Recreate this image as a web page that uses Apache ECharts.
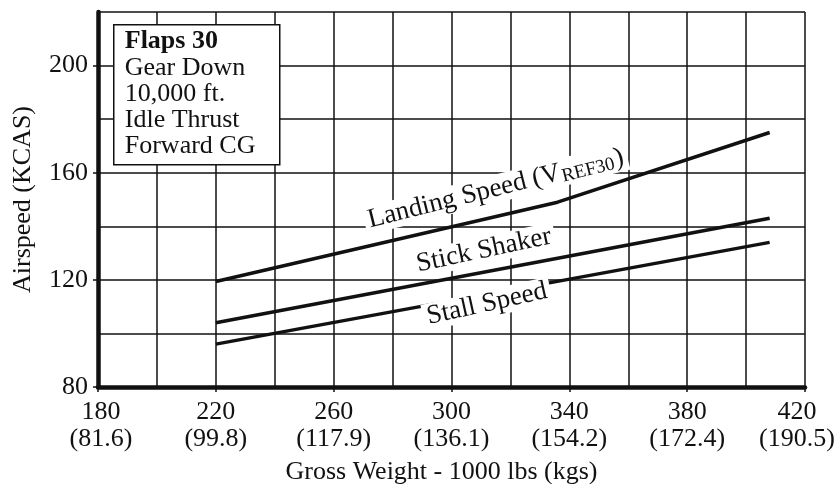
<!DOCTYPE html>
<html>
<head>
<meta charset="utf-8">
<script src="https://cdn.jsdelivr.net/npm/echarts@6/dist/echarts.min.js"></script>
<style>
html, body { margin: 0; padding: 0; background: #fff; }
#chart { width: 840px; height: 484px; }
</style>
</head>
<body>
<div id="chart"></div>
<script>
// tick labels
const weightLbs = [180, 220, 260, 300, 340, 380, 420];
const weightKgs = ['81.6', '99.8', '117.9', '136.1', '154.2', '172.4', '190.5'];
const speedTicks = [80, 120, 160, 200];

// curves: [gross weight (1000 lbs), airspeed (KCAS)]
const landingSpeed = [[220, 119.4], [336, 149], [408, 175]];
const stickShaker = [[220, 104], [408, 143]];
const stallSpeed = [[220, 96], [408, 134]];

const notes = ['Flaps 30', 'Gear Down', '10,000 ft.', 'Idle Thrust', 'Forward CG'];

const FONT = 'Liberation Serif';
const INK = '#111';

const chart = echarts.init(document.getElementById('chart'));

function curveLabel(text, coord, angle, rich) {
	return {
		symbol: 'circle',
		symbolSize: 1,
		itemStyle: { color: 'rgba(0,0,0,0)' },
		label: { show: false },
		data: [{
			coord: coord,
			label: {
				show: true,
				position: 'inside',
				formatter: text,
				rotate: angle,
				fontFamily: FONT,
				fontSize: 27,
				color: INK,
				backgroundColor: '#fff',
				padding: [0, 4],
				rich: rich
			}
		}]
	};
}

function lineSeries(name, data, mark) {
	return {
		name: name,
		type: 'line',
		data: data,
		xAxisIndex: 0,
		yAxisIndex: 0,
		symbol: 'none',
		lineStyle: { color: INK, width: 3.5 },
		z: 3,
		markPoint: mark
	};
}

// grid axes: lines every 20, no ticks or labels
const gridX = {
	type: 'value', min: 180, max: 420, interval: 20,
	axisLine: { show: false },
	axisTick: { show: false },
	axisLabel: { show: false },
	splitLine: { show: true, lineStyle: { color: INK, width: 1.5 } }
};
const gridY = {
	type: 'value', min: 80, max: 220, interval: 20,
	axisLine: { show: false },
	axisTick: { show: false },
	axisLabel: { show: false },
	splitLine: { show: true, lineStyle: { color: INK, width: 1.5 } }
};

const tickText = { fontFamily: FONT, fontSize: 26, lineHeight: 27, color: INK };

let option = {
	animation: false,
	backgroundColor: '#fff',
	grid: { left: 98, right: 35, top: 12, bottom: 97, outerBoundsMode: 'none', containLabel: false },
	xAxis: [gridX, {
		type: 'value',
		position: 'bottom',
		min: 180, max: 420, interval: 20,
		name: 'Gross Weight - 1000 lbs (kgs)',
		nameLocation: 'middle',
		nameGap: 72,
		nameTextStyle: { fontFamily: FONT, fontSize: 26, color: INK, padding: [0, 20, 0, 0] },
		axisLine: { onZero: false, lineStyle: { color: INK, width: 4.5 } },
		axisTick: { show: true, length: 5, customValues: weightLbs, lineStyle: { color: INK, width: 1.5 } },
		axisLabel: {
			customValues: weightLbs,
			margin: 12,
			fontFamily: FONT, fontSize: 26, lineHeight: 27, color: INK,
			formatter: function (v) {
				const i = weightLbs.indexOf(v);
				const key = i === weightLbs.length - 1 ? 'e' : (i === 0 ? 's' : 'm');
				return '{' + key + '|' + v + '}\n{' + key + '|(' + weightKgs[i] + ')}';
			},
			rich: {
				s: Object.assign({ padding: [0, 0, 0, 6] }, tickText),
				m: tickText,
				e: Object.assign({ padding: [0, 16, 0, 0] }, tickText)
			}
		},
		splitLine: { show: false }
	}],
	yAxis: [gridY, {
		type: 'value',
		position: 'left',
		min: 80, max: 220, interval: 20,
		name: 'Airspeed (KCAS)',
		nameLocation: 'middle',
		nameGap: 62,
		nameTextStyle: { fontFamily: FONT, fontSize: 26, color: INK },
		axisLine: { show: true, lineStyle: { color: INK, width: 4.5 } },
		axisTick: { show: true, length: 5, customValues: speedTicks, lineStyle: { color: INK, width: 1.5 } },
		axisLabel: {
			customValues: speedTicks,
			margin: 10,
			fontFamily: FONT, fontSize: 26, color: INK
		},
		splitLine: { show: false }
	}],
	series: [
		lineSeries('Landing Speed', landingSpeed,
			curveLabel('{a|Landing Speed (V}{s|REF30}{a|)}', [315, 154], 14, {
				a: { fontFamily: FONT, fontSize: 27, color: INK, lineHeight: 28 },
				s: { fontFamily: FONT, fontSize: 19, color: INK, lineHeight: 22, verticalAlign: 'bottom', padding: [0, 1, 0, 1] }
			})),
		lineSeries('Stick Shaker', stickShaker,
			curveLabel('Stick Shaker', [311, 131], 12)),
		lineSeries('Stall Speed', stallSpeed,
			curveLabel('Stall Speed', [312, 111], 12.5))
	],
	graphic: [{
		type: 'group',
		left: 113,
		top: 24,
		z: 100,
		children: [{
			type: 'rect',
			shape: { x: 0, y: 0, width: 166, height: 140 },
			style: { fill: '#fff', stroke: INK, lineWidth: 1.5 },
			z: 100
		}, {
			type: 'text',
			x: 11,
			y: 4,
			z: 101,
			style: {
				text: '{b|' + notes[0] + '}\n' + notes.slice(1).map(function (n) { return '{n|' + n + '}'; }).join('\n'),
				rich: {
					b: { fontFamily: FONT, fontSize: 26, fontWeight: 'bold', fill: INK, lineHeight: 26 },
					n: { fontFamily: FONT, fontSize: 26, fill: INK, lineHeight: 26 }
				}
			}
		}]
	}]
};

chart.setOption(option);
</script>
</body>
</html>
